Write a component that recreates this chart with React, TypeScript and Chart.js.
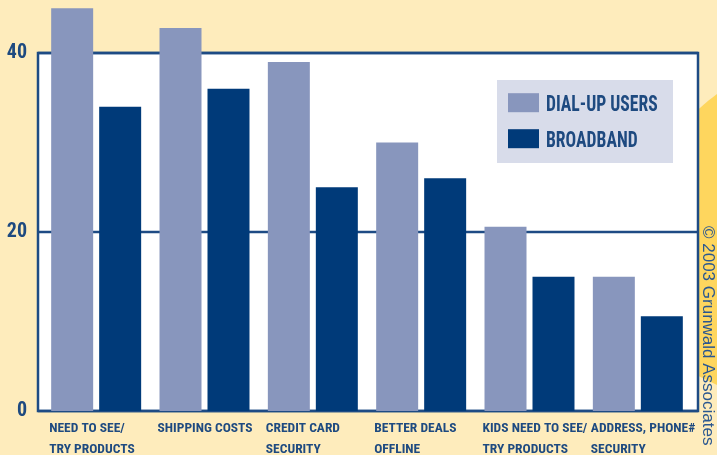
import React, { useEffect, useRef } from "react";
import { Chart, registerables } from "chart.js";

Chart.register(...registerables);

const categories: string[][] = [
  ["NEED TO SEE/", "TRY PRODUCTS"],
  ["SHIPPING COSTS"],
  ["CREDIT CARD", "SECURITY"],
  ["BETTER DEALS", "OFFLINE"],
  ["KIDS NEED TO SEE/", "TRY PRODUCTS"],
  ["ADDRESS, PHONE#", "SECURITY"],
];
const dialUpValues = [45, 42.8, 39, 30, 20.6, 15];
const broadbandValues = [34, 36, 25, 26, 15, 10.6];
const seriesLabels = ["DIAL-UP USERS", "BROADBAND"];
const yTickValues = [0, 20, 40];
const creditText = "\u00A9 2003 Grunwald Associates";

const CREAM = "#FEECBC";
const YELLOW = "#FED65E";
const NAVY = "#1E4B84";
const TEXT = "#1E4A80";
const DIAL_COLOR = "#8896BD";
const BROAD_COLOR = "#003A79";
const LEGEND_BG = "#D8DCEA";
const COND = "'Roboto Condensed', 'DejaVu Sans Condensed', sans-serif";

const framePlugin = {
  id: "frame",
  beforeDraw(chart: any) {
    const { ctx, width, height, chartArea: a, scales } = chart;
    ctx.save();
    ctx.fillStyle = CREAM;
    ctx.fillRect(0, 0, width, height);
    // swoosh
    ctx.fillStyle = YELLOW;
    ctx.beginPath();
    ctx.moveTo(680, 126);
    ctx.bezierCurveTo(694, 113, 706, 102, width, 94);
    ctx.lineTo(width, 385);
    ctx.lineTo(680, 367);
    ctx.closePath();
    ctx.fill();
    const left = a.left - 4;
    const right = a.right + 6;
    ctx.fillStyle = "#FFFFFF";
    ctx.fillRect(left, a.top, right - left, a.bottom - a.top);
    ctx.strokeStyle = NAVY;
    ctx.lineWidth = 2.5;
    const ys = scales.y;
    ys.ticks.forEach((t: any) => {
      const y = ys.getPixelForValue(t.value);
      ctx.beginPath();
      ctx.moveTo(left, y);
      ctx.lineTo(right, y);
      ctx.stroke();
    });
    ctx.strokeRect(left, a.top, right - left, a.bottom - a.top);
    ctx.restore();
  },
  afterDraw(chart: any) {
    const { ctx, width } = chart;
    ctx.save();
    // legend box
    ctx.fillStyle = LEGEND_BG;
    ctx.fillRect(497, 80, 176, 83);
    const rows = [110.7, 146.7];
    chart.data.datasets.forEach((ds: any, i: number) => {
      const base = rows[i];
      ctx.fillStyle = ds.backgroundColor;
      ctx.fillRect(508, base - 17.5, 31, 19);
      ctx.save();
      ctx.translate(546, base);
      ctx.scale(0.8, 1);
      ctx.fillStyle = TEXT;
      ctx.font = `bold 22px ${COND}`;
      ctx.textBaseline = "alphabetic";
      ctx.textAlign = "left";
      ctx.fillText(ds.label, 0, 0);
      ctx.restore();
    });
    // credit
    ctx.translate(width - 14, 226);
    ctx.rotate(Math.PI / 2);
    ctx.fillStyle = "#2A5790";
    ctx.font = "17px 'Liberation Sans', Arial, sans-serif";
    ctx.textBaseline = "alphabetic";
    ctx.textAlign = "left";
    ctx.fillText(creditText, 0, 0);
    ctx.restore();
  },
};

export default function App() {
  const ref = useRef<HTMLCanvasElement | null>(null);
  useEffect(() => {
    if (!ref.current) return;
    const chart = new Chart(ref.current, {
      type: "bar",
      data: {
        labels: categories,
        datasets: [
          {
            label: seriesLabels[0],
            data: dialUpValues,
            backgroundColor: DIAL_COLOR,
            borderWidth: 0,
            clip: false as any,
            barPercentage: 0.875,
            categoryPercentage: 0.886,
          },
          {
            label: seriesLabels[1],
            data: broadbandValues,
            backgroundColor: BROAD_COLOR,
            borderWidth: 0,
            clip: false as any,
            barPercentage: 0.875,
            categoryPercentage: 0.886,
          },
        ],
      },
      options: {
        animation: false,
        responsive: false,
        events: [],
        layout: { padding: { top: 53, right: 25, left: 0, bottom: 0 } },
        plugins: { legend: { display: false }, tooltip: { enabled: false } },
        scales: {
          x: {
            grid: { display: false, drawTicks: false },
            border: { display: false },
            ticks: {
              autoSkip: false,
              maxRotation: 0,
              minRotation: 0,
              align: "start",
              labelOffset: -47,
              padding: 7,
              color: TEXT,
              font: { family: COND, size: 13.5, weight: "bold", lineHeight: 1.55 },
            },
            afterFit(scale: any) {
              scale.height = 44;
              scale.paddingLeft = 0;
              scale.paddingRight = 0;
            },
          },
          y: {
            min: 0,
            max: 40,
            grid: { display: false, drawTicks: false },
            border: { display: false },
            afterBuildTicks(scale: any) {
              scale.ticks = yTickValues.map((v) => ({ value: v }));
            },
            ticks: {
              padding: 15,
              color: TEXT,
              font: { family: COND, size: 20, weight: "bold" },
            },
            afterFit(scale: any) {
              scale.width = 42;
              scale.paddingTop = 0;
              scale.paddingBottom = 0;
            },
          },
        },
      },
      plugins: [framePlugin],
    });
    return () => chart.destroy();
  }, []);
  return (
    <div style={{ position: "fixed", left: 0, top: 0, width: 717, height: 455, overflow: "hidden" }}>
      <canvas ref={ref} width={717} height={455} style={{ width: 717, height: 455, display: "block" }} />
    </div>
  );
}
